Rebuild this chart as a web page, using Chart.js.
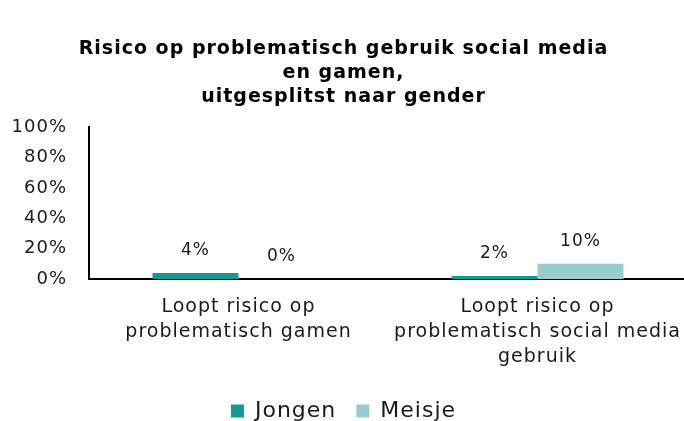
<!DOCTYPE html>
<html>
<head>
<meta charset="utf-8">
<script src="https://cdn.jsdelivr.net/npm/chart.js@4"></script>
<style>
  html, body { margin: 0; padding: 0; background: #fff; overflow: hidden; }
  #wrap { width: 710px; height: 432px; }
</style>
</head>
<body>
<div id="wrap"><canvas id="riskChart" width="710" height="432"></canvas></div>
<script>
const categories = [
    ['Loopt risico op', 'problematisch gamen'],
    ['Loopt risico op', 'problematisch social media', 'gebruik']
];
const seriesNames = ['Jongen', 'Meisje'];
const jongen = [4, 2];
const meisje = [0, 10];
const yTicks = [0, 20, 40, 60, 80, 100];

const FONT = '"DejaVu Sans", "Liberation Sans", sans-serif';

// iets bredere letters, zoals het oorspronkelijke lettertype
const spacing = {
    id: 'spacing',
    beforeUpdate(chart) { chart.ctx.letterSpacing = '1px'; },
    beforeLayout(chart) { chart.ctx.letterSpacing = '1px'; },
    beforeDraw(chart) { chart.ctx.letterSpacing = '1px'; }
};

// Percentages boven elke staaf
const valueLabels = {
    id: 'valueLabels',
    afterDatasetsDraw(chart) {
        const ctx = chart.ctx;
        ctx.save();
        ctx.font = '17px ' + FONT;
        ctx.fillStyle = '#1a1a1a';
        ctx.textAlign = 'center';
        ctx.textBaseline = 'middle';
        chart.data.datasets.forEach((ds, i) => {
            chart.getDatasetMeta(i).data.forEach((bar, j) => {
                ctx.fillText(ds.data[j] + '%', bar.x, bar.y - 22);
            });
        });
        ctx.restore();
    }
};

new Chart(document.getElementById('riskChart'), {
    type: 'bar',
    data: {
        labels: categories,
        datasets: [
            { label: seriesNames[0], data: jongen, backgroundColor: '#139a97' },
            { label: seriesNames[1], data: meisje, backgroundColor: '#97cdcd' }
        ]
    },
    options: {
        responsive: false,
        animation: false,
        datasets: {
            bar: { categoryPercentage: 0.575, barPercentage: 1 }
        },
        layout: { padding: { top: 37, right: 23, left: 0, bottom: 0 } },
        plugins: {
            title: {
                display: true,
                text: ['Risico op problematisch gebruik social media', 'en gamen,', 'uitgesplitst naar gender'],
                color: '#000',
                font: { family: FONT, size: 19, weight: 'bold', lineHeight: 1.27 },
                padding: { top: 0, bottom: 18 }
            },
            legend: {
                position: 'bottom',
                labels: {
                    color: '#1a1a1a',
                    font: { family: FONT, size: 22, lineHeight: 1.0 },
                    boxWidth: 13,
                    boxHeight: 13,
                    padding: 20
                }
            },
            tooltip: { enabled: false }
        },
        scales: {
            x: {
                afterFit(scale) { scale.height = 101; },
                grid: { display: false, drawTicks: false },
                border: { color: '#000', width: 2 },
                ticks: {
                    color: '#1a1a1a',
                    font: { family: FONT, size: 19, lineHeight: 1.3 },
                    maxRotation: 0,
                    padding: 16
                }
            },
            y: {
                min: 0,
                max: 100,
                afterFit(scale) { scale.width = 89; },
                afterBuildTicks(scale) { scale.ticks = yTicks.map(v => ({ value: v })); },
                grid: { display: false, drawTicks: false },
                border: { color: '#000', width: 2 },
                ticks: {
                    color: '#1a1a1a',
                    font: { family: FONT, size: 18 },
                    padding: 22,
                    callback: v => v + '%'
                }
            }
        }
    },
    plugins: [spacing, valueLabels]
});
</script>
</body>
</html>
